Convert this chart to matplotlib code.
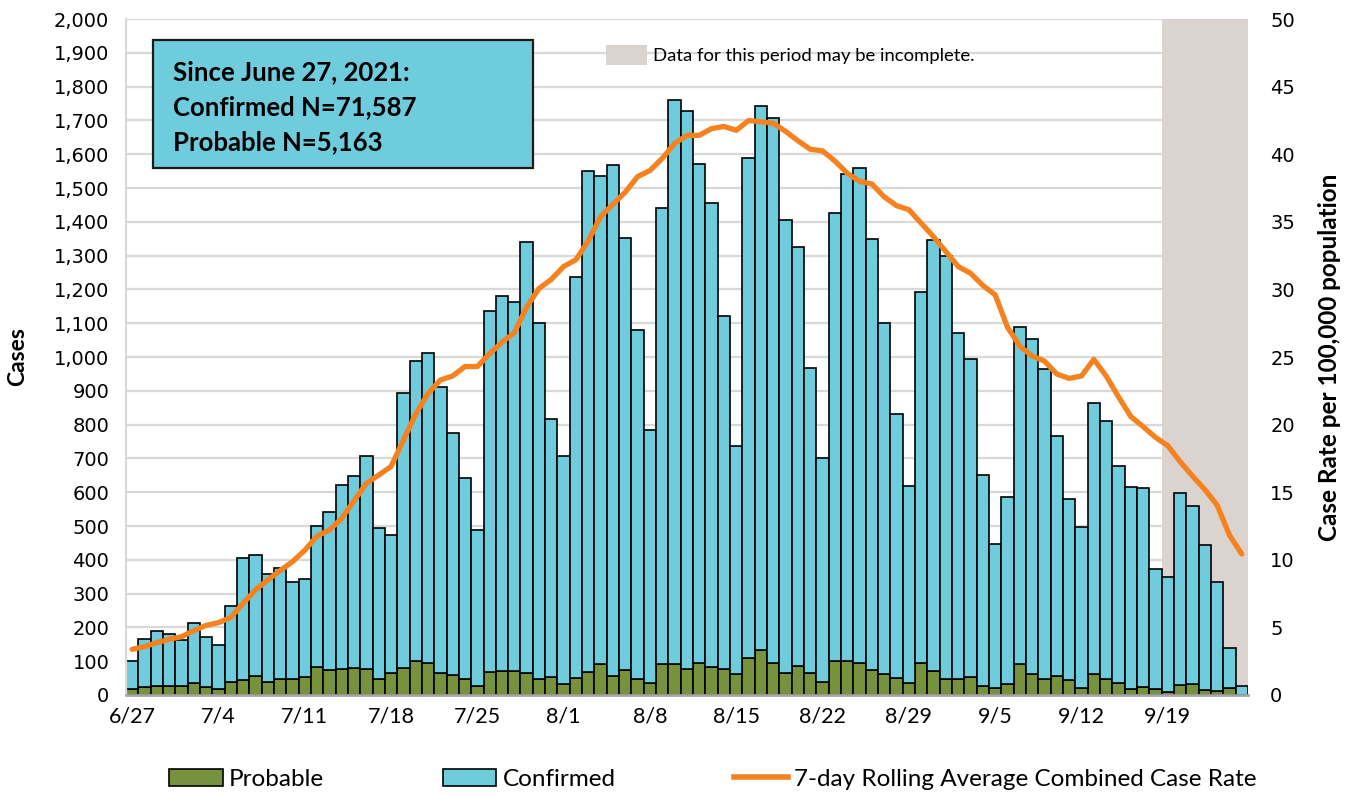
import numpy as np
import matplotlib
matplotlib.use("Agg")
import matplotlib.pyplot as plt
from matplotlib.patches import Patch, Rectangle
from matplotlib.lines import Line2D
from matplotlib.ticker import FuncFormatter, MultipleLocator

# daily counts, 6/27 .. 9/25 (2021)
probable = [17, 25, 28, 26, 26, 36, 24, 17, 38, 44, 57, 39, 47, 47, 52, 84, 75, 78, 80, 76,
            46, 66, 80, 100, 96, 64, 60, 46, 27, 67, 71, 71, 64, 48, 54, 33, 51, 67, 91, 56,
            75, 48, 36, 92, 92, 76, 94, 84, 78, 63, 110, 133, 94, 64, 86, 66, 39, 102, 100, 94,
            74, 63, 49, 36, 94, 72, 47, 47, 53, 28, 22, 33, 92, 63, 48, 56, 44, 22, 61, 46,
            36, 19, 25, 19, 8, 29, 33, 15, 12, 21, 0]
confirmed = [85, 140, 162, 154, 137, 176, 147, 132, 226, 361, 357, 318, 328, 287, 290, 416, 465, 543, 567, 632,
             447, 407, 815, 888, 917, 846, 714, 597, 461, 1070, 1110, 1092, 1275, 1052, 764, 674, 1187, 1485, 1445, 1511,
             1276, 1032, 749, 1348, 1668, 1653, 1477, 1373, 1043, 673, 1479, 1609, 1612, 1343, 1241, 901, 663, 1323, 1442, 1466,
             1274, 1037, 783, 581, 1099, 1273, 1251, 1024, 941, 622, 425, 553, 997, 991, 918, 710, 535, 476, 804, 764,
             643, 596, 588, 354, 341, 568, 527, 429, 323, 118, 28]
# 7-day rolling average combined case rate per 100,000
rate = [3.38, 3.57, 3.87, 4.12, 4.31, 4.76, 5.15, 5.35, 5.74, 6.78, 7.77, 8.51, 9.2, 9.86, 10.7, 11.76, 12.2, 13.07, 14.37, 15.66,
        16.27, 16.9, 18.85, 20.78, 22.3, 23.3, 23.6, 24.3, 24.3, 25.25, 26.1, 26.8, 28.7, 30.07, 30.75, 31.7, 32.2, 33.6, 35.4, 36.3,
        37.2, 38.35, 38.8, 39.7, 40.8, 41.4, 41.4, 41.9, 42.06, 41.77, 42.5, 42.4, 42.3, 41.7, 41.0, 40.37, 40.25, 39.5, 38.6, 38.0,
        37.8, 36.85, 36.2, 35.9, 34.9, 33.9, 32.8, 31.7, 31.2, 30.3, 29.6, 27.2, 25.8, 25.07, 24.7, 23.74, 23.42, 23.6, 24.83, 23.6,
        22.06, 20.6, 19.85, 19.06, 18.44, 17.26, 16.2, 15.2, 14.05, 11.83, 10.43]
week_labels = ["6/27", "7/4", "7/11", "7/18", "7/25", "8/1", "8/8", "8/15", "8/22", "8/29", "9/5", "9/12", "9/19"]
incomplete_days = 7  # last 7 days shaded

c_prob = "#76923C"
c_conf = "#6ECCDD"
c_line = "#F5821F"
c_shade = "#DAD3CF"
narrow = ["Lato", "DejaVu Sans"]

x = np.arange(len(confirmed))

fig = plt.figure(figsize=(13.5, 7.96), dpi=100)
ax = fig.add_axes([0.0933, 0.1269, 0.8311, 0.8491])

ax.axvspan(len(x) - incomplete_days - 0.5, len(x) - 0.5, color=c_shade, lw=0, zorder=1)
ax.bar(x, probable, width=1.0, color=c_prob, edgecolor="black", linewidth=1.2, zorder=2)
ax.bar(x, confirmed, width=1.0, bottom=probable, color=c_conf, edgecolor="black", linewidth=1.2, zorder=2)

ax.set_xlim(-0.5, len(x) - 0.5)
ax.set_ylim(0, 2000)
ax.yaxis.set_major_locator(MultipleLocator(100))
ax.yaxis.set_major_formatter(FuncFormatter(lambda v, p: f"{int(v):,}"))
ax.grid(axis="y", color="#D9D9D9", lw=1.6, zorder=0)
ax.set_axisbelow(True)
ax.set_xticks(np.arange(0, len(x), 7))
ax.set_xticklabels(week_labels, family=narrow, fontsize=15.5)
ax.tick_params(axis="x", length=0, pad=8)
ax.tick_params(axis="y", length=0, pad=12, labelsize=14)
for s in ["top", "right"]:
    ax.spines[s].set_visible(False)
ax.spines["left"].set_color("#D9D9D9")
ax.spines["left"].set_linewidth(1.6)
ax.spines["bottom"].set_color("#A6A6A6")
ax.spines["bottom"].set_linewidth(2)
ax.set_ylabel("Cases", family=narrow, fontsize=16.5, fontweight="bold")
ax.yaxis.set_label_coords(-0.0875, 0.5)

ax2 = ax.twinx()
ax2.plot(x, rate, color=c_line, lw=3.8, solid_joinstyle="round", solid_capstyle="round", zorder=3)
ax2.set_ylim(0, 50)
ax2.yaxis.set_major_locator(MultipleLocator(5))
ax2.tick_params(axis="y", length=0, pad=16, labelsize=14)
for s in ["top", "right", "left", "bottom"]:
    ax2.spines[s].set_visible(False)
ax2.set_ylabel("Case Rate per 100,000 population", family=narrow, fontsize=17.5, fontweight="bold")
ax2.yaxis.set_label_coords(1.062, 0.5)

# summary box
ax.add_patch(Rectangle((0.024, 0.7796), 0.3387, 0.1894, transform=ax.transAxes,
                       facecolor=c_conf, edgecolor="#1a1a1a", lw=1.6, zorder=5))
ax.text(0.042, 0.8698, "Since June 27, 2021:\nConfirmed N=71,587\nProbable N=5,163",
        transform=ax.transAxes, ha="left", va="center", family=narrow, fontsize=18.5,
        fontweight="bold", linespacing=1.54, zorder=6)

# shading note
note = ax2.legend([Patch(facecolor=c_shade, edgecolor="none")], ["Data for this period may be incomplete."],
                  loc="center left", bbox_to_anchor=(0.42, 0.947), frameon=False,
                  prop={"family": narrow, "size": 13.3}, handlelength=2.2, handleheight=1.3,
                  handletextpad=0.3, borderpad=0)

handles = [Patch(facecolor=c_prob, edgecolor="black", lw=1.2),
           Patch(facecolor=c_conf, edgecolor="black", lw=1.2),
           Line2D([0], [0], color=c_line, lw=4)]
fig.legend(handles, ["Probable", "Confirmed", "7-day Rolling Average Combined Case Rate"],
           loc="center", bbox_to_anchor=(0.528, 0.021), ncol=3, frameon=False,
           prop={"family": narrow, "size": 17.5}, handlelength=2.2, handleheight=0.75,
           handletextpad=0.25, columnspacing=4.9)

fig.savefig("out.png", dpi=100)
